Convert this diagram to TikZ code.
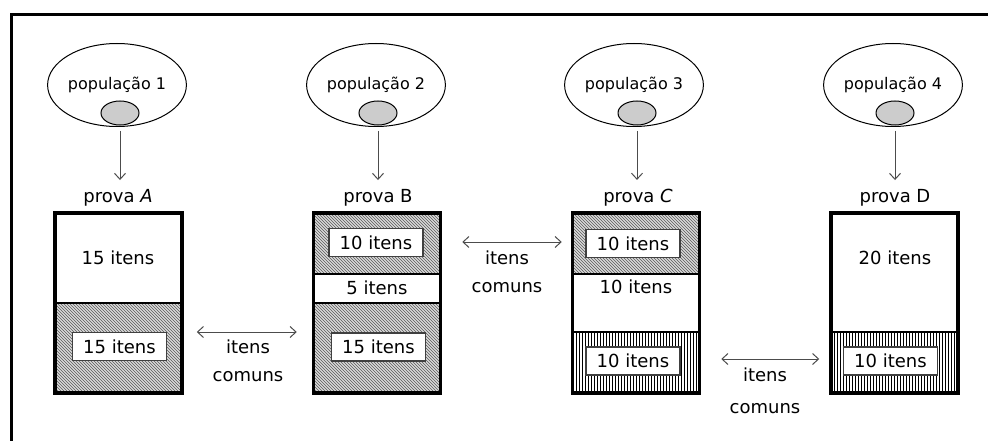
\documentclass[tikz,border=0pt]{standalone}
\usepackage{fontspec}
\setmainfont{DejaVu Sans}
\usetikzlibrary{shapes.geometric, patterns, arrows.meta, positioning}

\tikzset{
    pop/.style = {shape = ellipse, draw, line width = 1pt, minimum width = 125pt, minimum height = 83pt, inner sep = 0pt, font = \fontsize{16}{17}\selectfont},
    sample/.style = {shape = ellipse, draw, line width = 1pt, fill = gray!40, minimum width = 38pt, minimum height = 24pt, inner sep = 0pt},
    txt/.style = {font = \fontsize{18}{19}\selectfont},
    test/.style = {draw, line width = 3.5pt, minimum width = 127pt, minimum height = 180pt, inner sep = 0pt},
    items/.style = {txt, draw = black!75, line width = 1.2pt, fill = white, minimum width = 94pt, minimum height = 28pt, inner sep = 0pt},
    hatch/.style = {fill = gray!30, postaction = {pattern = north west lines, pattern color = black!65}},
    vlines/.style = {fill = white, postaction = {pattern = vertical lines, pattern color = black}},
    feed/.style = {-{Straight Barb[length = 6pt, width = 11pt]}, draw = black!70, line width = 1pt},
    common/.style = {{Straight Barb[length = 6pt, width = 11pt]}-{Straight Barb[length = 6pt, width = 11pt]}, draw = black!70, line width = 1pt}
}

\begin{document}
\begin{tikzpicture}[x = 1pt, y = -1pt]
    \useasboundingbox (0,0) rectangle (988,441);
    \draw[line width = 3pt] (11.5,441) -- (11.5,14.5) -- (988,14.5);

    % sections
    \fill[hatch] (55,303) rectangle (182,393);
    \fill[hatch] (313,213) rectangle (441,274);
    \fill[hatch] (313,303) rectangle (441,393);
    \fill[hatch] (573,213) rectangle (699,274);
    \fill[vlines] (573,332) rectangle (699,393);
    \fill[vlines] (832,332) rectangle (957,393);
    \draw[line width = 2pt] (55,303) -- (182,303);
    \draw[line width = 2.5pt] (313,274) -- (441,274) (313,303) -- (441,303);
    \draw[line width = 2.5pt] (573,274) -- (699,274) (573,332) -- (699,332);
    \draw[line width = 2pt] (832,332) -- (957,332);

    % provas
    \node[test] (boxA) at (118.5,303) {};
    \node[test] (boxB) at (377,303) {};
    \node[test] (boxC) at (636,303) {};
    \node[test] (boxD) at (894.5,303) {};

    \node[txt] (A1) at (118,258) {15 itens};
    \node[items] (A2) at (119.5,346.5) {15 itens};
    \node[items] (B1) at (376,242.5) {10 itens};
    \node[txt] (B2) at (377,288) {5 itens};
    \node[items] (B3) at (378.5,347) {15 itens};
    \node[items] (C1) at (633,243.5) {10 itens};
    \node[txt] (C2) at (636,287) {10 itens};
    \node[items] (C3) at (633,361) {10 itens};
    \node[txt] (D1) at (895,258) {20 itens};
    \node[items] (D2) at (890.5,361) {10 itens};

    % populacoes
    \node[pop] (pop1) at (117,85) {população 1};
    \node[pop] (pop2) at (376,85) {população 2};
    \node[pop] (pop3) at (634,85) {população 3};
    \node[pop] (pop4) at (893,85) {população 4};
    \node[sample] (s1) at ([xshift = 3, yshift = 14]pop1.south) {};
    \node[sample] (s2) at ([xshift = 2, yshift = 14]pop2.south) {};
    \node[sample] (s3) at ([xshift = 3, yshift = 14]pop3.south) {};
    \node[sample] (s4) at ([xshift = 2, yshift = 14]pop4.south) {};

    \node[txt] (tA) at (118,198) {prova \textit{A}};
    \node[txt] (tB) at (378,198) {prova B};
    \node[txt] (tC) at (638,198) {prova \textit{C}};
    \node[txt] (tD) at (895,198) {prova D};

    \draw[feed, shorten <= 4pt, shorten >= 6pt] (s1.south |- pop1.south) -- (s1.south |- tA.north);
    \draw[feed, shorten <= 4pt, shorten >= 6pt] (s2.south |- pop2.south) -- (s2.south |- tB.north);
    \draw[feed, shorten <= 4pt, shorten >= 6pt] (s3.south |- pop3.south) -- (s3.south |- tC.north);
    \draw[feed, shorten <= 4pt, shorten >= 6pt] (s4.south |- pop4.south) -- (s4.south |- tD.north);

    % itens comuns
    \node[txt, align = center] (cAB) at (248,361) {itens\\[9pt]comuns};
    \node[txt, align = center] (cBC) at (507,272) {itens\\[9pt]comuns};
    \node[txt, align = center] (cCD) at (765,391) {itens\\[13pt]comuns};
    \draw[common, shorten <= 13pt, shorten >= 15pt] ([yshift = -29]boxA.east) -- ([yshift = -29]boxB.west);
    \draw[common, shorten <= 20pt, shorten >= 9pt] ([yshift = 61]boxB.east) -- ([yshift = 61]boxC.west);
    \draw[common, shorten <= 20pt, shorten >= 10pt] ([yshift = -56]boxC.east) -- ([yshift = -56]boxD.west);
\end{tikzpicture}
\end{document}
